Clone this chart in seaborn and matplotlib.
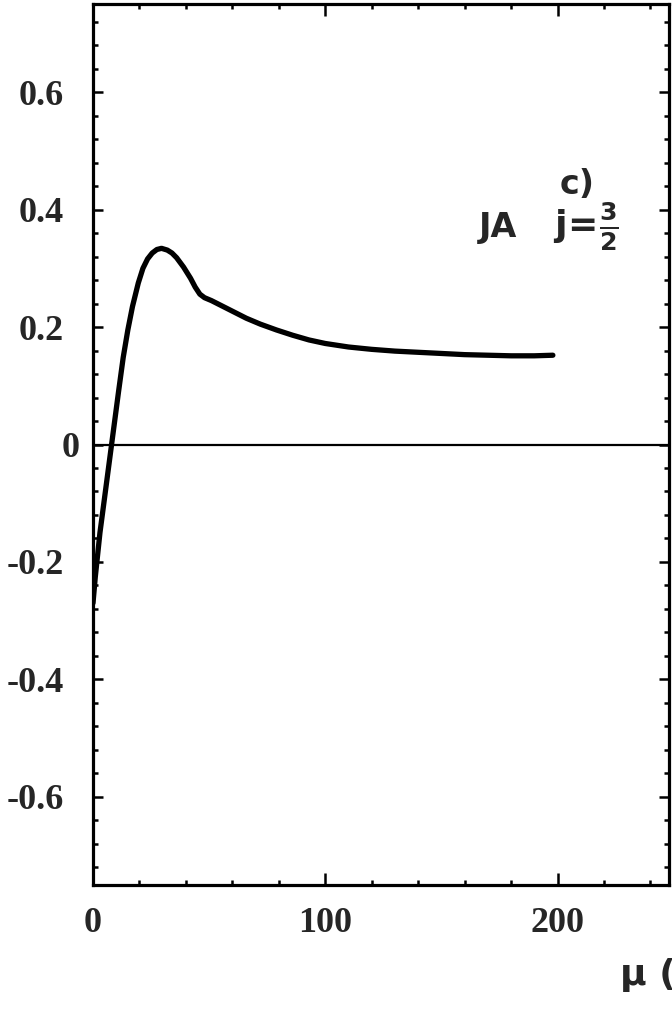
import matplotlib
matplotlib.use("Agg")
import matplotlib.pyplot as plt
import matplotlib.transforms as mtransforms
from matplotlib.ticker import MultipleLocator, FixedLocator
import seaborn as sns
import pandas as pd

# ---- data ----
mu = [0, 1, 3, 5, 8, 11, 13, 15, 17, 19.5, 21.5, 23.5, 25.5, 27.5, 29.5,
      32, 34, 36, 39, 42, 44, 46, 48, 51, 55, 60, 66, 72, 79, 86, 93, 100,
      110, 120, 130, 140, 150, 160, 170, 180, 190, 198]
amp = [-0.27, -0.225, -0.15, -0.09, 0.0, 0.09, 0.148, 0.195, 0.235, 0.275,
       0.30, 0.316, 0.326, 0.332, 0.334, 0.331, 0.326, 0.318, 0.302, 0.283,
       0.268, 0.256, 0.250, 0.245, 0.237, 0.227, 0.215, 0.205, 0.195, 0.186,
       0.178, 0.172, 0.166, 0.162, 0.159, 0.157, 0.155, 0.153, 0.152, 0.151,
       0.151, 0.152]
x_major = [0, 100, 200]
x_labels = ["0", "100", "200"]
y_major = [-0.6, -0.4, -0.2, 0.0, 0.2, 0.4, 0.6]
y_labels = ["-0.6", "-0.4", "-0.2", "0", "0.2", "0.4", "0.6"]

df = pd.DataFrame({"mu": mu, "amp": amp})

sns.set_style("ticks")
plt.rcParams["font.family"] = ["Liberation Serif", "DejaVu Serif"]

W, H = 672, 1011
fig = plt.figure(figsize=(W / 100, H / 100), dpi=100)
ax = fig.add_axes([93 / W, 1 - 885 / H, (669 - 93) / W, (885 - 4) / H])

ax.axhline(0, color="black", lw=1.6, zorder=1)
sns.lineplot(data=df, x="mu", y="amp", ax=ax, color="black", lw=3.8,
             estimator=None, sort=False, zorder=3)

ax.set_xlim(0, 248)
ax.set_ylim(-0.75, 0.75)

ax.xaxis.set_major_locator(FixedLocator(x_major))
ax.xaxis.set_minor_locator(MultipleLocator(20))
ax.yaxis.set_major_locator(FixedLocator(y_major))
ax.yaxis.set_minor_locator(MultipleLocator(0.04))
ax.set_xticklabels(x_labels)
ax.set_yticklabels(y_labels)

for s in ax.spines.values():
    s.set_visible(True)
    s.set_linewidth(2.3)
    s.set_color("black")

ax.tick_params(which="both", direction="in", top=True, right=True,
               color="black", width=1.8)
ax.tick_params(which="major", axis="x", length=8.5, pad=16, labelsize=26)
ax.tick_params(which="minor", axis="x", length=3.5)
ax.tick_params(which="major", axis="y", length=7.5, pad=21, labelsize=26)
ax.tick_params(which="minor", axis="y", length=3.5)
for lab in ax.get_xticklabels() + ax.get_yticklabels():
    lab.set_fontweight("bold")

# "0" on the y axis sits closer to the spine in the original
for lab in ax.get_yticklabels():
    if lab.get_text() == "0":
        lab.set_transform(lab.get_transform() +
                          mtransforms.ScaledTranslation(0.16, 0, fig.dpi_scale_trans))

ax.set_xlabel("")
ax.set_ylabel("")

# annotations
ax.text(201, 0.443, "c)", fontsize=24, fontweight="bold",
        family=["DejaVu Sans"], ha="left", va="center")
ax.text(166, 0.37, "JA", fontsize=24, fontweight="bold",
        family=["DejaVu Sans"], ha="left", va="center")
ax.text(198, 0.37, r"$\mathbf{j\!=\!\frac{3}{2}}$", fontsize=26,
        ha="left", va="center")

fig.text(620 / W, 1 - 975 / H, "μ (MeV)", fontsize=26, fontweight="bold",
         family=["DejaVu Sans"], ha="left", va="center")

fig.savefig("out.png", dpi=100, facecolor="white")
